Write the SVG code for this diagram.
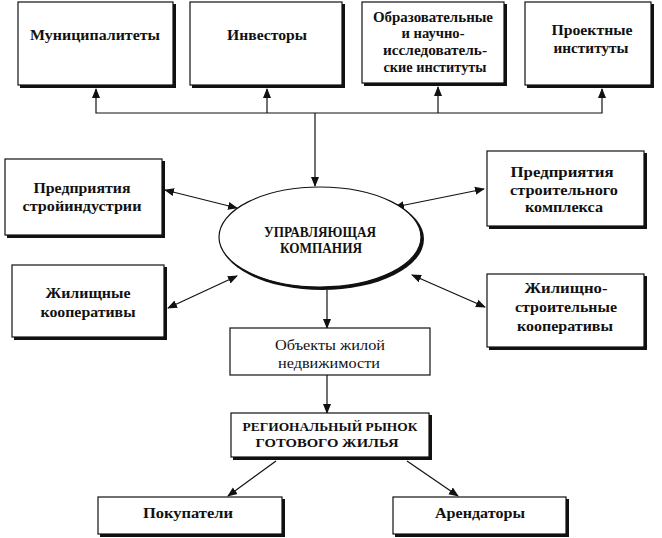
<svg xmlns="http://www.w3.org/2000/svg" width="662" height="538" viewBox="0 0 662 538">
<style>
.sh{fill:#111;stroke:none}
.bx{fill:#fff;stroke:#111;stroke-width:1.2}
.t{font-family:"Liberation Serif",serif;font-weight:bold;font-size:15px;fill:#111;text-anchor:middle}
.r{font-family:"Liberation Serif",serif;font-size:15px;fill:#111;text-anchor:middle}
.c{fill:none;stroke:#111;stroke-width:1.2}
</style>
<defs>
<marker id="a" viewBox="0 0 10 10" refX="9" refY="5" markerWidth="10" markerHeight="10" markerUnits="userSpaceOnUse" orient="auto-start-reverse">
<path d="M0,1 L10,5 L0,9 z" fill="#111"/>
</marker>
</defs>
<rect width="662" height="538" fill="#fff"/>
<g id="connectors">
<polyline class="c" points="96,89 96,113 602,113 602,89" marker-start="url(#a)" marker-end="url(#a)"/>
<line class="c" x1="267" y1="113" x2="267" y2="89" marker-end="url(#a)"/>
<line class="c" x1="438" y1="113" x2="438" y2="87" marker-end="url(#a)"/>
<line class="c" x1="315" y1="113" x2="315" y2="186" marker-end="url(#a)"/>
<line class="c" x1="165" y1="190" x2="237" y2="208" marker-start="url(#a)" marker-end="url(#a)"/>
<line class="c" x1="168" y1="308" x2="237" y2="276" marker-start="url(#a)" marker-end="url(#a)"/>
<line class="c" x1="395" y1="207" x2="484" y2="189" marker-start="url(#a)" marker-end="url(#a)"/>
<line class="c" x1="412" y1="275" x2="485" y2="307" marker-start="url(#a)" marker-end="url(#a)"/>
<line class="c" x1="327" y1="290" x2="327" y2="328" marker-end="url(#a)"/>
<line class="c" x1="327" y1="375" x2="327" y2="413" marker-end="url(#a)"/>
<line class="c" x1="276" y1="461" x2="228" y2="496" marker-end="url(#a)"/>
<line class="c" x1="407" y1="461" x2="458" y2="496" marker-end="url(#a)"/>
</g>
<g id="n1"><rect class="sh" x="20" y="4" width="156" height="84"/><rect class="bx" x="18" y="2" width="155" height="83"/><text class="t" x="95" y="40" textLength="130" lengthAdjust="spacingAndGlyphs">Муниципалитеты</text></g>
<g id="n2"><rect class="sh" x="192" y="4" width="153" height="84"/><rect class="bx" x="190" y="2" width="152" height="83"/><text class="t" x="267" y="40" textLength="80" lengthAdjust="spacingAndGlyphs">Инвесторы</text></g>
<g id="n3"><rect class="sh" x="364" y="4" width="143" height="82"/><rect class="bx" x="362" y="2" width="142" height="81"/><text class="t" x="433" y="22" textLength="120" lengthAdjust="spacingAndGlyphs">Образовательные</text><text class="t" x="433" y="38" textLength="63" lengthAdjust="spacingAndGlyphs">и научно-</text><text class="t" x="435" y="55" textLength="104" lengthAdjust="spacingAndGlyphs">исследователь-</text><text class="t" x="435" y="72" textLength="103" lengthAdjust="spacingAndGlyphs">ские институты</text></g>
<g id="n4"><rect class="sh" x="527" y="4" width="127" height="84"/><rect class="bx" x="525" y="2" width="126" height="83"/><text class="t" x="592" y="35" textLength="81" lengthAdjust="spacingAndGlyphs">Проектные</text><text class="t" x="591" y="53" textLength="75" lengthAdjust="spacingAndGlyphs">институты</text></g>
<g id="n5"><ellipse cx="322" cy="239" rx="102" ry="51" fill="#111"/><ellipse cx="320" cy="237" rx="101" ry="50" class="bx"/><text class="t" x="320" y="237" textLength="112" lengthAdjust="spacingAndGlyphs">УПРАВЛЯЮЩАЯ</text><text class="t" x="321" y="253" textLength="82" lengthAdjust="spacingAndGlyphs">КОМПАНИЯ</text></g>
<g id="n6"><rect class="sh" x="7" y="161" width="158" height="77"/><rect class="bx" x="5" y="159" width="157" height="76"/><text class="t" x="82" y="193" textLength="97" lengthAdjust="spacingAndGlyphs">Предприятия</text><text class="t" x="82" y="211" textLength="119" lengthAdjust="spacingAndGlyphs">стройиндустрии</text></g>
<g id="n7"><rect class="sh" x="14" y="267" width="153" height="73"/><rect class="bx" x="12" y="265" width="152" height="72"/><text class="t" x="88" y="298" textLength="85" lengthAdjust="spacingAndGlyphs">Жилищные</text><text class="t" x="88" y="317" textLength="95" lengthAdjust="spacingAndGlyphs">кооперативы</text></g>
<g id="n8"><rect class="sh" x="489" y="153" width="158" height="76"/><rect class="bx" x="487" y="151" width="157" height="75"/><text class="t" x="562" y="177" textLength="103" lengthAdjust="spacingAndGlyphs">Предприятия</text><text class="t" x="564" y="195" textLength="108" lengthAdjust="spacingAndGlyphs">строительного</text><text class="t" x="564" y="212" textLength="78" lengthAdjust="spacingAndGlyphs">комплекса</text></g>
<g id="n9"><rect class="sh" x="489" y="276" width="158" height="74"/><rect class="bx" x="487" y="274" width="157" height="73"/><text class="t" x="566" y="293" textLength="83" lengthAdjust="spacingAndGlyphs">Жилищно-</text><text class="t" x="566" y="312" textLength="102" lengthAdjust="spacingAndGlyphs">строительные</text><text class="t" x="565" y="331" textLength="96" lengthAdjust="spacingAndGlyphs">кооперативы</text></g>
<g id="n10"><rect class="bx" x="230" y="328" width="200" height="47"/><text class="r" x="330" y="350" textLength="110" lengthAdjust="spacingAndGlyphs">Объекты жилой</text><text class="r" x="329" y="368" textLength="102" lengthAdjust="spacingAndGlyphs">недвижимости</text></g>
<g id="n11"><rect class="sh" x="233" y="415" width="199" height="45"/><rect class="bx" x="231" y="413" width="198" height="44"/><text class="t" x="330" y="431" style="font-size:13.5px" textLength="175" lengthAdjust="spacingAndGlyphs">РЕГИОНАЛЬНЫЙ РЫНОК</text><text class="t" x="327" y="447" style="font-size:13.5px" textLength="143" lengthAdjust="spacingAndGlyphs">ГОТОВОГО ЖИЛЬЯ</text></g>
<g id="n12"><rect class="sh" x="100" y="499" width="185" height="38"/><rect class="bx" x="98" y="497" width="184" height="37"/><text class="t" x="188" y="518" textLength="90" lengthAdjust="spacingAndGlyphs">Покупатели</text></g>
<g id="n13"><rect class="sh" x="395" y="499" width="174" height="38"/><rect class="bx" x="393" y="497" width="173" height="37"/><text class="t" x="480" y="518" textLength="90" lengthAdjust="spacingAndGlyphs">Арендаторы</text></g>
</svg>
